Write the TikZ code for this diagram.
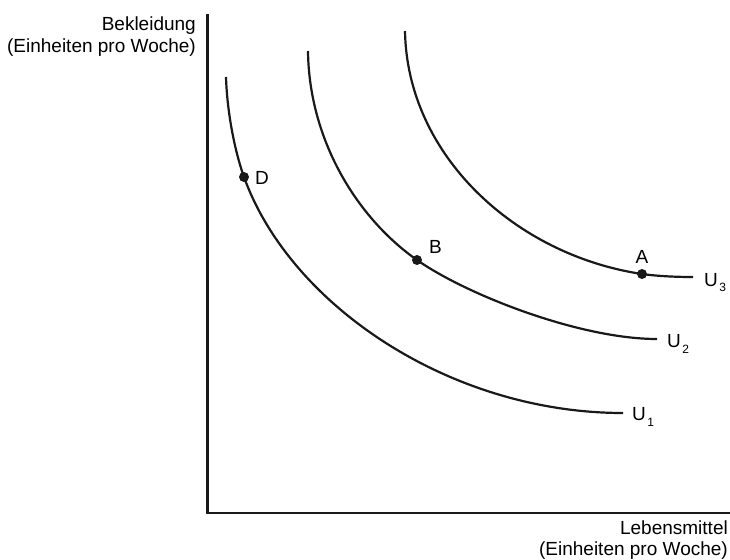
\documentclass[tikz,border=0pt]{standalone}
\usepackage{fontspec}
\setmainfont{Liberation Sans}
\begin{document}
\begin{tikzpicture}[x=1pt,y=-1pt,
  curve/.style={line width=2.2pt, line cap=butt, color=black!90},
  axis/.style={line width=2.2pt, color=black!90},
  dotpt/.style={circle, fill=black!90, inner sep=0pt, minimum size=10pt},
  lbl/.style={font=\fontsize{19}{22}\selectfont, inner sep=0pt},
  ulbl/.style={font=\fontsize{19}{22}\selectfont, inner sep=0pt, anchor=base west}]
\useasboundingbox (0,0) rectangle (730,559);
% axes
\coordinate (ytop) at (207.5,14);
\coordinate (orig) at (207.5,513);
\coordinate (xend) at (730,513);
\draw[axis] (ytop) -- (orig) -- (xend);
% axis labels
\node[lbl, anchor=base east] (ylab1) at (196,31) {Bekleidung};
\node[lbl, anchor=base east] (ylab2) at (196,53) {(Einheiten pro Woche)};
\node[lbl, anchor=base east] (xlab1) at (728,534) {Lebensmittel};
\node[lbl, anchor=base east] (xlab2) at (728,555) {(Einheiten pro Woche)};
% points
\coordinate (D) at (244,177);
\coordinate (B) at (417,260);
\coordinate (A) at (642,274);
% U1
\coordinate (u1s) at (226,77);
\coordinate (u1e) at (623,413);
\draw[curve] (u1s) .. controls (227,110) and (234,149) .. (D)
  .. controls (290,305) and (450,413) .. (u1e);
% U2
\coordinate (u2s) at (308,51);
\coordinate (u2e) at (657,339);
\draw[curve] (u2s) .. controls (309,140) and (357,218) .. (B)
  .. controls (467,295) and (580,339) .. (u2e);
% U3
\coordinate (u3s) at (405,31);
\coordinate (u3e) at (693,277);
\draw[curve] (u3s) .. controls (407,155) and (515,255) .. (A)
  .. controls (660,276.5) and (680,277) .. (u3e);
% dots
\node[dotpt] (Dd) at (D) {};
\node[dotpt] (Bd) at (B) {};
\node[dotpt] (Ad) at (A) {};
\node[lbl, anchor=west] (Dl) at (255,178) {D};
\node[lbl, anchor=west] (Bl) at (429,247) {B};
\node[lbl, anchor=south] (Al) at (642,264) {A};
% curve labels
\node[ulbl] (U3) at (704,286) {U\kern1.5pt\raisebox{-5.5pt}{\fontsize{12}{12}\selectfont 3}};
\node[ulbl] (U2) at (667,347.5) {U\kern1.5pt\raisebox{-5.5pt}{\fontsize{12}{12}\selectfont 2}};
\node[ulbl] (U1) at (632,420.5) {U\kern1.5pt\raisebox{-5.5pt}{\fontsize{12}{12}\selectfont 1}};
\end{tikzpicture}
\end{document}
